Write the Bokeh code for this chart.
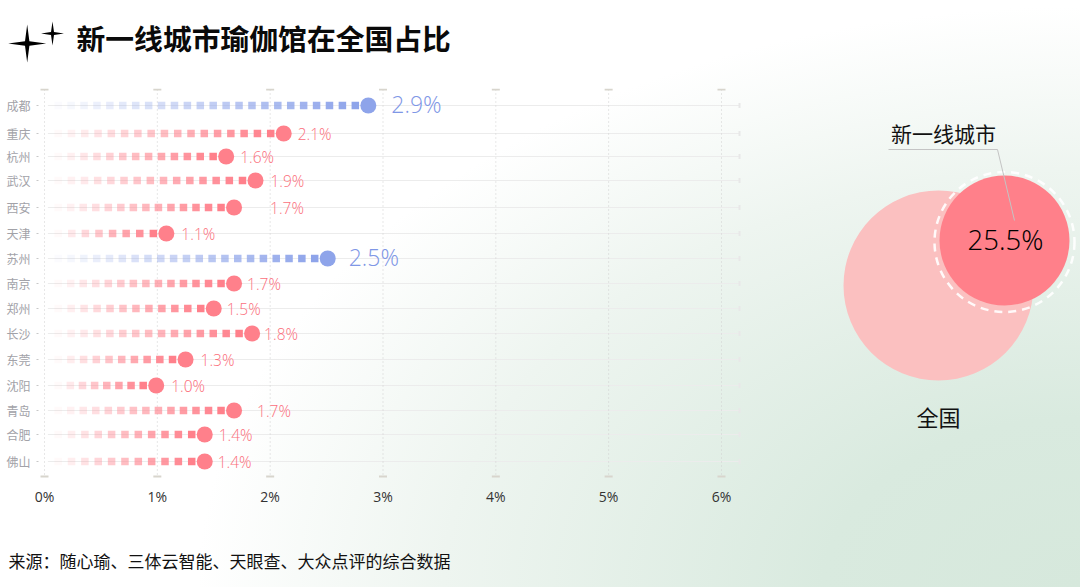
import numpy as np
from bokeh.embed import file_html
from bokeh.resources import INLINE
from bokeh.plotting import figure
from bokeh.layouts import column
from bokeh.models import Range1d, ColumnDataSource, FixedTicker
from bokeh.core.properties import value

cities = ["成都", "重庆", "杭州", "武汉", "西安", "天津", "苏州", "南京", "郑州", "长沙", "东莞", "沈阳", "青岛", "合肥", "佛山"]
shares = [2.87, 2.12, 1.61, 1.87, 1.68, 1.08, 2.51, 1.68, 1.50, 1.84, 1.25, 0.99, 1.68, 1.42, 1.42]
share_labels = ["2.9%", "2.1%", "1.6%", "1.9%", "1.7%", "1.1%", "2.5%", "1.7%", "1.5%", "1.8%", "1.3%", "1.0%", "1.7%", "1.4%", "1.4%"]
highlight = ["成都", "苏州"]
x_ticks = [0, 1, 2, 3, 4, 5, 6]
x_tick_labels = ["0%", "1%", "2%", "3%", "4%", "5%", "6%"]
pie_label = "25.5%"

W, H = 1080, 587
PINK, BLUE = "#ff808b", "#8ea4ea"
FONT = "Noto Sans CJK SC"
LATIN = "'Open Sans Light', 'Open Sans'"
PX = 112.83       # pixels per 1%
X0, L, T, B = 44, 38, 88, 478
rows = [105, 133, 156, 180, 207, 233, 258, 283, 308, 333, 359, 385, 410, 434, 461]
ABS = {"position": "absolute", "left": "0", "top": "0"}

p = figure(width=W, height=H, output_backend="svg", toolbar_location=None, frame_align=False,
           x_range=Range1d((L - X0) / PX, (W - X0) / PX),
           y_range=Range1d(B, T),
           min_border_left=L, min_border_right=0, min_border_top=T, min_border_bottom=H - B,
           background_fill_color=None, border_fill_color=None, outline_line_color=None)
p.styles = dict(ABS, background="radial-gradient(ellipse 95% 115% at 100% 100%, #d6e8dc 0%, #d9eadf 25%, #eef5f0 62%, #ffffff 86%)")
p.grid.visible = False

xa = p.xaxis[0]
xa.ticker = FixedTicker(ticks=x_ticks)
xa.major_label_overrides = {t: s for t, s in zip(x_ticks, x_tick_labels)}
xa.axis_line_color = None
xa.major_tick_line_color = None
xa.minor_tick_line_color = None
xa.major_label_standoff = 2
xa.major_label_text_font = "Open Sans"
xa.major_label_text_font_size = "14px"
xa.major_label_text_color = "#333333"

ya = p.yaxis[0]
ya.ticker = FixedTicker(ticks=rows)
ya.major_label_overrides = {r: c for r, c in zip(rows, cities)}
ya.axis_line_color = None
ya.major_tick_line_color = "#c8c8c8"
ya.minor_tick_line_color = None
ya.major_tick_out = 2
ya.major_tick_in = 0
ya.major_label_standoff = 6
ya.major_label_text_font = FONT
ya.major_label_text_font_size = "12px"
ya.major_label_text_color = "#a2a2a8"

# grid
p.segment(x0=[0.03] * len(cities), x1=[6.16] * len(cities), y0=rows, y1=rows, line_color="#ececec", line_width=1)
p.scatter([6.16] * len(cities), rows, marker="dash", angle=np.pi / 2, size=5, line_color="#e8e8e8", line_width=2)
p.segment(x0=x_ticks, x1=x_ticks, y0=[T + 1] * 7, y1=[B - 2] * 7,
          line_color="#cfcfcf", line_width=1, line_dash="1 3")
cap = 4 / PX
for yy in (T + 1, B - 2):
    p.segment(x0=[t - cap for t in x_ticks], x1=[t + cap for t in x_ticks], y0=[yy] * 7, y1=[yy] * 7,
              line_color="#d8d5cd", line_width=2)

# dotted lollipop stems
sx, sy, sa, sc = [], [], [], []
step = 13 / PX
start = 13.7 / PX
for r, c, v in zip(rows, cities, shares):
    n = int(round((v - step - start) / step)) + 1
    xs = np.linspace(start, v - step, n)
    sx += list(xs)
    sy += [r] * n
    sa += list(np.linspace(0.04, 1.0, n))
    sc += [BLUE if c in highlight else PINK] * n
p.scatter(sx, sy, marker="square", size=7.5, fill_color=sc, fill_alpha=sa, line_color=None)

colors = [BLUE if c in highlight else PINK for c in cities]
text_colors = ["#7f97e6" if c in highlight else "#fb6f7c" for c in cities]
src = ColumnDataSource(dict(row=rows, v=shares, lab=share_labels, col=colors, tcol=text_colors,
                            dx=[23, 14, 14, 15, 36, 15, 21, 13, 13, 12, 15, 15, 23, 14, 13],
                            dy=[-2, 0, 0, 0, 0, 0, -2, 0, 0, 0, 0, 0, 0, 0, 0],
                            fs=["23px" if c in highlight else "15.5px" for c in cities]))
p.scatter("v", "row", source=src, size=16, fill_color="col", line_color=None)
p.text("v", "row", text="lab", source=src, x_offset="dx", y_offset="dy", text_color="tcol",
       text_font=value(LATIN), text_font_size="fs", text_baseline="middle", text_align="left")

# full-page transparent layer in pixel coordinates for the title, source, stars and circles
o = figure(width=W, height=H, output_backend="svg", toolbar_location=None, frame_align=False,
           x_range=Range1d(0, W), y_range=Range1d(H, 0), x_axis_type=None, y_axis_type=None,
           min_border=0, background_fill_color=None, border_fill_color=None, outline_line_color=None)
o.styles = dict(ABS)
o.grid.visible = False

o.circle(x=[938], y=[285], radius=95, fill_color="#fbc0c0", line_color=None)
o.circle(x=[1004], y=[241.5], radius=70, fill_color=None,
         line_color="white", line_width=2.5, line_alpha=0.9, line_dash="8 6")
o.circle(x=[1004], y=[240], radius=65, fill_color="#ff808a", line_color=None)
o.line(x=[888, 997, 1014], y=[149, 149, 220], line_color="#c4c4c4", line_width=1)

def label(x, y, text, size, color="#111111", style="normal", font=FONT, align="left"):
    o.text(x=[x], y=[y], text=[text], text_font=value(font), text_font_size=value(size), text_color=color,
           text_font_style=style, text_align=align, text_baseline="middle")

label(76, 37, "新一线城市瑜伽馆在全国占比", "28.8px", style="bold", color="#0a0a0a")
label(8, 560, "来源：随心瑜、三体云智能、天眼查、大众点评的综合数据", "17px")
label(943, 132, "新一线城市", "21px", align="center")
label(1005, 239, pie_label, "27.5px", font=LATIN, color="#000000", align="center")
label(938, 415, "全国", "22px", align="center")

def sparkle(cx, cy, rx, ry, core):
    xs = [cx + rx, cx + core, cx, cx - core, cx - rx, cx - core, cx, cx + core]
    ys = [cy, cy + core, cy + ry, cy + core, cy, cy - core, cy - ry, cy - core]
    o.patch(xs, ys, fill_color="#000000", line_color=None)

sparkle(26.7, 43, 19, 19, 2.2)
sparkle(52, 33, 11.5, 12, 1.5)

page = column(p, o)
page.styles = dict(ABS, width=f"{W}px", height=f"{H}px")
open("out.html", "w").write(file_html(page, INLINE))
